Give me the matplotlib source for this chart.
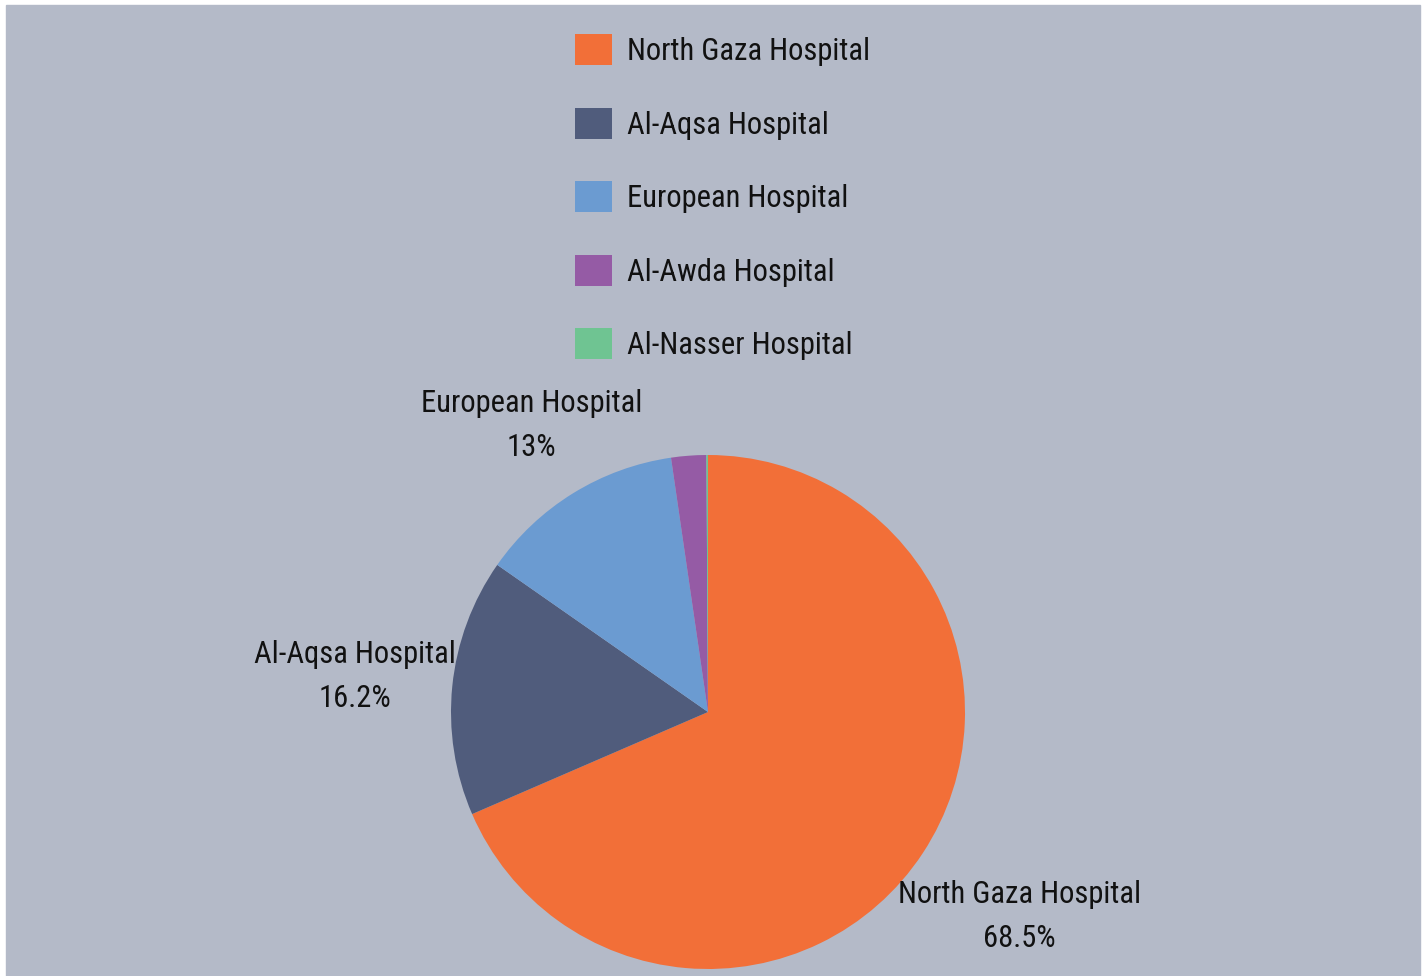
import numpy as np
import matplotlib; matplotlib.use('agg')
import matplotlib.pyplot as plt
from matplotlib.patches import Rectangle

# data
hospitals = ["North Gaza Hospital", "Al-Aqsa Hospital", "European Hospital",
             "Al-Awda Hospital", "Al-Nasser Hospital"]
shares = [68.5, 16.2, 13.0, 2.2, 0.1]
slice_labels = ["North Gaza Hospital\n68.5%", "Al-Aqsa Hospital\n16.2%",
                "European Hospital\n13%", "", ""]
colors = ["#f26f38", "#505c7c", "#6b9bd1", "#955ba5", "#6fc492"]
label_dist = [1.45, 1.38, 1.31, 1.3, 1.3]

plt.rcParams['font.family'] = ['Roboto Condensed', 'Roboto', 'DejaVu Sans']
fs = 22

W, H = 1427, 976
fig = plt.figure(figsize=(W / 100, H / 100), dpi=100)
fig.patch.set_facecolor("white")
fig.patches.append(Rectangle((6 / W, 0), (1420 - 6) / W, (976 - 5) / H,
                             transform=fig.transFigure, color="#b4bac8", zorder=-5))

# pie axes: centre (708, 712) px, radius 257 px
cx, cy, r = 708, 712, 257
side = 4 * r
ax = fig.add_axes([(cx - side / 2) / W, (H - cy - side / 2) / H, side / W, side / H])
wedges, _ = ax.pie(shares, colors=colors, startangle=90, counterclock=False,
                   wedgeprops=dict(linewidth=0))
ax.set_xlim(-2, 2)
ax.set_ylim(-2, 2)
ax.set_aspect('equal')
ax.axis('off')
ax.patch.set_alpha(0)

for w, lab, d in zip(wedges, slice_labels, label_dist):
    if not lab:
        continue
    ang = np.deg2rad((w.theta1 + w.theta2) / 2)
    ax.text(d * np.cos(ang), d * np.sin(ang), lab, ha='center', va='center',
            fontsize=fs, linespacing=1.65, color="#111111")

leg = fig.legend(wedges, hospitals, loc='upper left',
                 bbox_to_anchor=(575 / W, 1 - 34 / H), frameon=False,
                 fontsize=fs, handlelength=1.2, handleheight=1.2,
                 handletextpad=0.5, labelspacing=1.36, borderpad=0,
                 borderaxespad=0)
for t in leg.get_texts():
    t.set_color("#111111")

fig.savefig("out.png", dpi=100)
